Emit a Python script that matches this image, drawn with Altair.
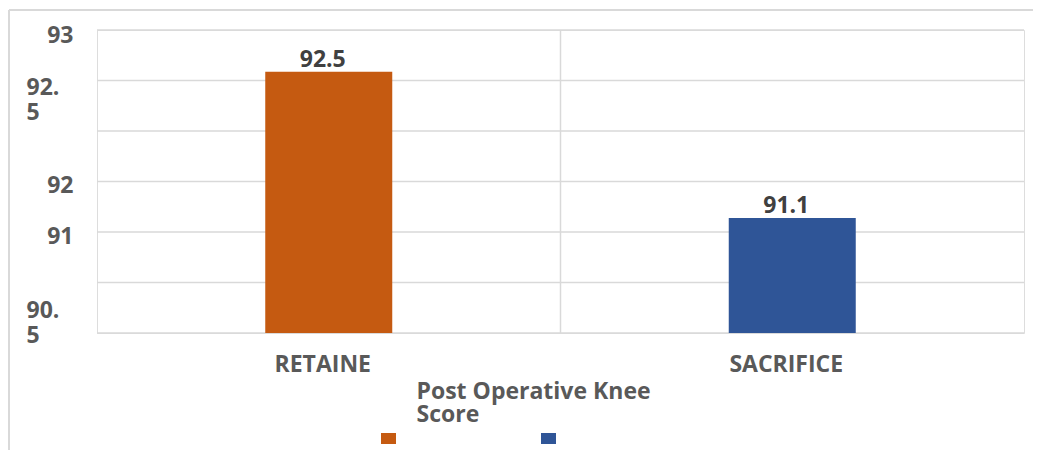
import altair as alt
import pandas as pd

categories = ["RETAINE", "SACRIFICE"]
scores = [92.5, 91.1]
bar_colors = ["#C55A11", "#2F5597"]

y_domain = [90, 92.9]
grid_values = [90, 90.483, 90.967, 91.45, 91.933, 92.417, 92.9]

# y-axis labels as they appear in the picture (single-line and wrapped ones)
single_label_pos = [92.85, 91.41, 90.92]
single_label_text = ["93", "92", "91"]
wrapped_label_pos = [92.345, 90.215]
wrapped_label_text = [["92.", "5"], ["90.", "5"]]

legend_title = ["Post Operative Knee", "Score"]
chart_title = "CHART 6: Functional Score"

df = pd.DataFrame({"cat": categories, "val": scores})
grid_df = pd.DataFrame({"val": grid_values})
sep_df = pd.DataFrame({"cat": categories[1:]})
one_df = pd.DataFrame({"a": [0]})


def lit(v):
    if isinstance(v, list):
        return "[" + ",".join("'" + s + "'" for s in v) + "]"
    return "'" + v + "'"


def make_expr(pos, txt):
    e = ""
    for p, t in zip(pos, txt):
        e += f"abs(datum.value - {p}) < 0.01 ? {lit(t)} : "
    return e + "''"


FONT = "Open Sans"
W, H = 927, 303
LABEL_STYLE = dict(
    labelFont=FONT, labelFontSize=23, labelFontWeight="bold", labelColor="#595959",
)

yscale = alt.Scale(domain=y_domain, zero=False, nice=False)
xscale = alt.Scale(domain=categories, paddingInner=0, paddingOuter=0)

x_axis = alt.Axis(
    title=legend_title,
    titleX=319,
    titleY=47,
    titleAlign="left",
    titleBaseline="top",
    titleFont=FONT,
    titleFontSize=23,
    titleFontWeight="bold",
    titleColor="#595959",
    titleLineHeight=23,
    labelAngle=0,
    labelPadding=20,
    labelOffset=-6,
    domain=False,
    ticks=False,
    grid=False,
    **LABEL_STYLE,
)

y_axis_single = alt.Axis(
    title=None,
    orient="left",
    values=single_label_pos,
    labelExpr=make_expr(single_label_pos, single_label_text),
    labelAlign="right",
    labelBaseline="middle",
    labelPadding=24,
    labelOverlap=False,
    labelFlush=False,
    domain=False,
    ticks=False,
    grid=False,
    **LABEL_STYLE,
)

y_axis_wrapped = alt.Axis(
    title=None,
    orient="left",
    values=wrapped_label_pos,
    labelExpr=make_expr(wrapped_label_pos, wrapped_label_text),
    labelAlign="left",
    labelBaseline="middle",
    labelPadding=71,
    labelLineHeight=25,
    labelOverlap=False,
    labelFlush=False,
    domain=False,
    ticks=False,
    grid=False,
    **LABEL_STYLE,
)

grid = alt.Chart(grid_df).mark_rule(color="#d9d9d9", strokeWidth=1.5).encode(
    y=alt.Y("val:Q", scale=yscale, axis=y_axis_single),
)

wrapped_axis_layer = alt.Chart(grid_df).mark_rule(opacity=0).encode(
    y=alt.Y("val:Q", scale=yscale, axis=y_axis_wrapped),
)

sep = alt.Chart(sep_df).mark_rule(color="#d9d9d9", strokeWidth=1.5).encode(
    x=alt.X("cat:N", scale=xscale, bandPosition=0, axis=x_axis, sort=categories),
    y=alt.value(0),
    y2=alt.value(H),
)

bars = alt.Chart(df).mark_bar(size=127).encode(
    x=alt.X("cat:N", sort=categories, scale=xscale),
    y=alt.Y("val:Q", scale=yscale, axis=None),
    y2=alt.datum(y_domain[0]),
    color=alt.Color(
        "cat:N",
        scale=alt.Scale(domain=categories, range=bar_colors),
        legend=alt.Legend(
            orient="none",
            legendX=284,
            legendY=401,
            direction="horizontal",
            title=None,
            labelExpr="''",
            symbolType="M-1,-0.733H1V0.733H-1Z",
            symbolSize=225,
            symbolStrokeWidth=0,
            symbolOpacity=1,
            columnPadding=145,
            labelOffset=0,
            padding=0,
        ),
    ),
)

text = alt.Chart(df).mark_text(
    dx=-6, dy=-5, baseline="alphabetic", font=FONT, fontSize=23,
    fontWeight="bold", color="#404040",
).encode(
    x=alt.X("cat:N", scale=xscale, sort=categories),
    y=alt.Y("val:Q", scale=yscale, axis=None),
    text=alt.Text("val:Q", format=".1f"),
)

border_top = alt.Chart(one_df).mark_rule(color="#d9d9d9", strokeWidth=2).encode(
    x=alt.value(-88), x2=alt.value(944), y=alt.value(-20)
)
border_left = alt.Chart(one_df).mark_rule(color="#d9d9d9", strokeWidth=2).encode(
    x=alt.value(-88), y=alt.value(-20), y2=alt.value(430)
)

chart = alt.layer(
    grid, wrapped_axis_layer, sep, bars, text, border_top, border_left
).resolve_scale(y="independent").properties(
    width=W,
    height=H,
    title=alt.TitleParams(
        chart_title, font="DejaVu Serif", fontSize=20, fontWeight="bold",
        color="#000000", anchor="middle", dx=-113, offset=30,
    ),
    autosize=alt.AutoSizeParams(type="none"),
    padding={"left": 89, "top": 22, "right": 9, "bottom": 117},
).configure_view(
    fill="#f0f0f0", stroke="#d9d9d9", strokeWidth=1.5
).configure(background="white")

chart.save("out.html", embed_options={"renderer": "svg", "actions": False})
